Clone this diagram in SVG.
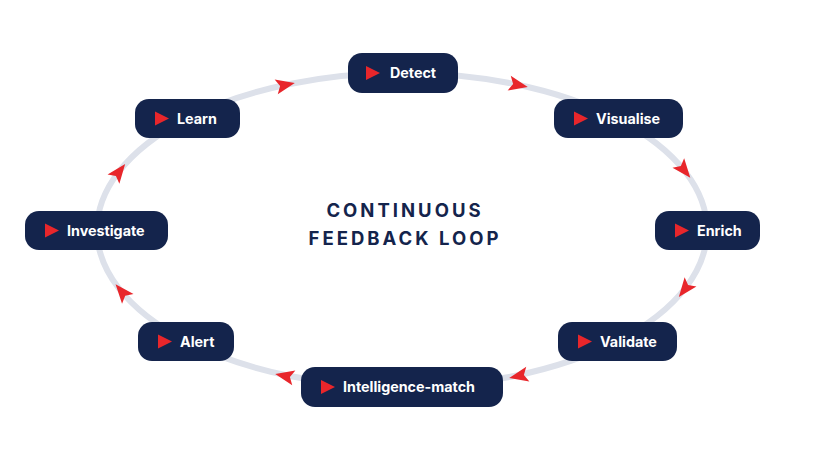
<svg xmlns="http://www.w3.org/2000/svg" width="820" height="461" viewBox="0 0 820 461">
<defs>
<style>
.ring{fill:none;stroke:#dde1ea;stroke-width:6}
.box{fill:#14244c}
.tri{fill:#e8262b}
.lbl{font-family:Inter,"Liberation Sans",sans-serif;font-weight:700;font-size:14.3px;fill:#ffffff}
.title{font-family:Inter,"Liberation Sans",sans-serif;font-weight:700;font-size:18.5px;fill:#14244c;letter-spacing:3px;text-anchor:middle}
.arr{fill:#e8262b}
</style>
<path id="dart" d="M10,0 L-9,-7.5 L-5,0 L-9,7.5 Z"/>
</defs>
<rect width="820" height="461" fill="#ffffff"/>
<g id="connectors">
<ellipse class="ring" cx="402" cy="230" rx="305" ry="157"/>
<use href="#dart" class="arr" transform="translate(285,85) rotate(-12)"/>
<use href="#dart" class="arr" transform="translate(518,85) rotate(12)"/>
<use href="#dart" class="arr" transform="translate(684,170) rotate(51)"/>
<use href="#dart" class="arr" transform="translate(685,289) rotate(128)"/>
<use href="#dart" class="arr" transform="translate(519,376) rotate(168)"/>
<use href="#dart" class="arr" transform="translate(285,376) rotate(192)"/>
<use href="#dart" class="arr" transform="translate(122,292) rotate(230)"/>
<use href="#dart" class="arr" transform="translate(119,172) rotate(308)"/>
</g>
<g id="title">
<text class="title" x="405" y="216.5">CONTINUOUS</text>
<text class="title" x="405" y="244.5">FEEDBACK LOOP</text>
</g>
<g id="detect">
<rect class="box" x="348" y="53" width="110" height="40" rx="14"/>
<path class="tri" d="M366,66 L380,73 L366,80 Z"/>
<text class="lbl" x="390" y="78">Detect</text>
</g>
<g id="visualise">
<rect class="box" x="554" y="99" width="129" height="39" rx="14"/>
<path class="tri" d="M574,111.5 L588,118.5 L574,125.5 Z"/>
<text class="lbl" x="596" y="123.5">Visualise</text>
</g>
<g id="enrich">
<rect class="box" x="655" y="211" width="105" height="39" rx="14"/>
<path class="tri" d="M675,223.5 L689,230.5 L675,237.5 Z"/>
<text class="lbl" x="697" y="235.5">Enrich</text>
</g>
<g id="validate">
<rect class="box" x="558" y="322" width="119" height="39" rx="14"/>
<path class="tri" d="M578,334.5 L592,341.5 L578,348.5 Z"/>
<text class="lbl" x="600" y="346.5">Validate</text>
</g>
<g id="intelligence-match">
<rect class="box" x="301" y="367" width="202" height="40" rx="14"/>
<path class="tri" d="M321,380 L335,387 L321,394 Z"/>
<text class="lbl" x="343" y="392">Intelligence-match</text>
</g>
<g id="alert">
<rect class="box" x="138" y="322" width="96" height="39" rx="14"/>
<path class="tri" d="M158,334.5 L172,341.5 L158,348.5 Z"/>
<text class="lbl" x="180" y="346.5">Alert</text>
</g>
<g id="investigate">
<rect class="box" x="25" y="211" width="143" height="39" rx="14"/>
<path class="tri" d="M45,223.5 L59,230.5 L45,237.5 Z"/>
<text class="lbl" x="67" y="235.5">Investigate</text>
</g>
<g id="learn">
<rect class="box" x="135" y="99" width="105" height="39" rx="14"/>
<path class="tri" d="M155,111.5 L169,118.5 L155,125.5 Z"/>
<text class="lbl" x="177" y="123.5">Learn</text>
</g>
</svg>
